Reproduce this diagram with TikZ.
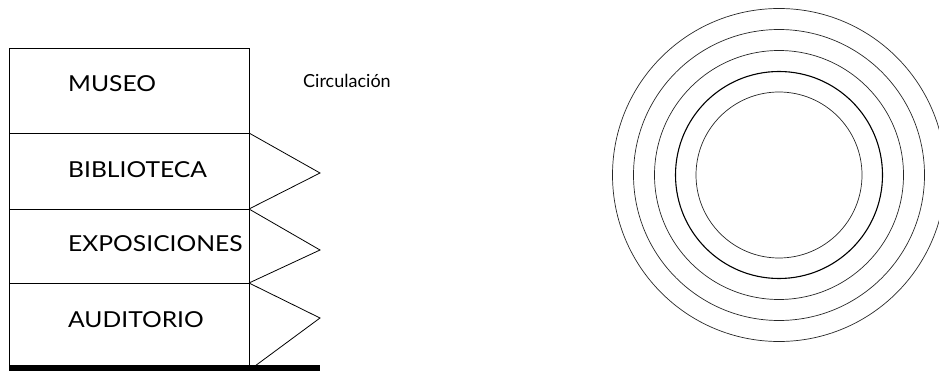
\documentclass[tikz,border=0pt]{standalone}
\usepackage{fontspec}
\setmainfont{Lato}
\newfontfamily\salafont[FakeStretch=1.12]{Lato}
\usetikzlibrary{positioning}

\begin{document}
\begin{tikzpicture}[x=1pt,y=-1pt,
  sala/.style={draw=black,line width=0.8pt},
  flecha/.style={draw=black,line width=0.8pt,line join=miter},
  lbl/.style={font=\salafont\fontsize{22}{22}\selectfont,
    anchor=base west,inner sep=0pt},
  circlbl/.style={font=\fontsize{18}{18}\selectfont,
    anchor=base west,inner sep=0pt},
  anillo/.style={draw=black!85,line width=0.7pt},
  anillofuerte/.style={draw=black,line width=1.1pt}
]
\useasboundingbox (0,0) rectangle (939,371);
\clip (0,0) rectangle (939,371);
% Salas
\draw[sala] (9,48)  rectangle (249,133);
\draw[sala] (9,133) rectangle (249,209);
\draw[sala] (9,209) rectangle (249,283);
\draw[sala] (9,283) rectangle (249,366);
\node[lbl] (museo)        at (68,92)  {MUSEO};
\node[lbl] (biblioteca)   at (68,178) {BIBLIOTECA};
\node[lbl] (exposiciones) at (68,252) {EXPOSICIONES};
\node[lbl] (auditorio)    at (68,327) {AUDITORIO};
\node[circlbl] (circ)     at (303,88) {Circulación};
% Flechas de circulacion
\coordinate (t1) at (320,173);
\coordinate (t2) at (320,250);
\coordinate (t3) at (320,318);
\draw[flecha] (249,133) -- (t1) -- (249,209);
\draw[flecha] (249,209) -- (t2) -- (249,283);
\draw[flecha] (249,283) -- (t3) -- (255,366);
\fill[black] (9,365) rectangle (320,371);
% Anillos
\coordinate (centro) at (779,175);
\draw[anillo]       (centro) circle[radius=83pt];
\draw[anillofuerte] (centro) circle[radius=103.5pt];
\draw[anillo]       (centro) circle[radius=124.5pt];
\draw[anillo]       (centro) circle[radius=145.5pt];
\draw[anillo]       (centro) circle[radius=166.5pt];
\end{tikzpicture}
\end{document}
